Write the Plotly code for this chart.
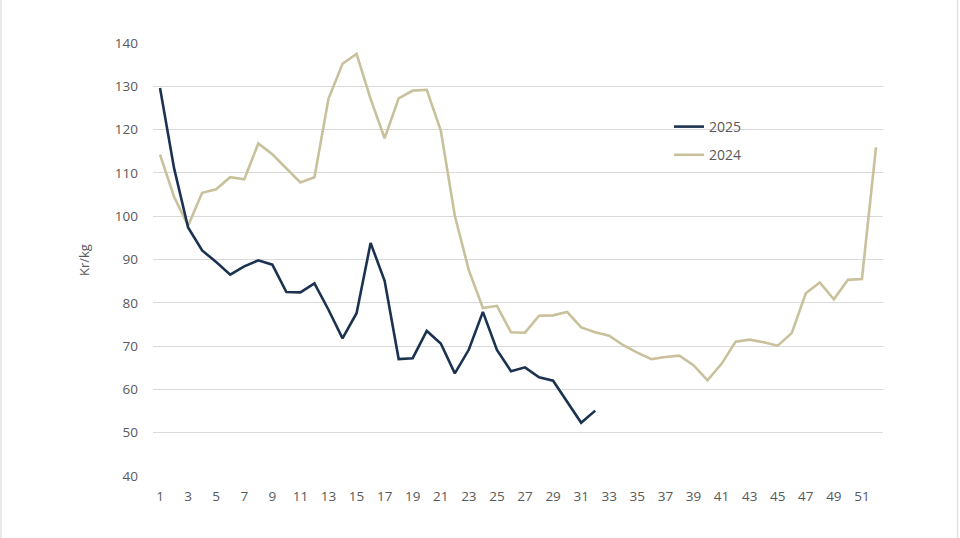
import plotly.graph_objects as go

weeks_2025 = list(range(1, 33))
price_2025 = [129.6, 111.1, 97.4, 92.1, 89.4, 86.5, 88.4, 89.8, 88.8, 82.5,
              82.4, 84.5, 78.4, 71.8, 77.6, 93.8, 85.1, 67.0, 67.2, 73.5,
              70.6, 63.7, 69.2, 77.9, 69.1, 64.2, 65.1, 62.8, 62.0, 57.2,
              52.3, 55.1]

weeks_2024 = list(range(1, 53))
price_2024 = [114.2, 104.5, 97.8, 105.4, 106.2, 109.0, 108.5, 116.8, 114.3, 111.1,
              107.8, 109.0, 127.1, 135.2, 137.5, 127.1, 118.0, 127.2, 129.0, 129.2,
              119.8, 100.1, 87.5, 78.8, 79.3, 73.2, 73.1, 77.0, 77.1, 77.9,
              74.3, 73.2, 72.4, 70.2, 68.5, 67.0, 67.5, 67.8, 65.6, 62.1,
              65.9, 71.0, 71.5, 70.9, 70.1, 73.0, 82.2, 84.7, 80.8, 85.3,
              85.5, 115.9]

x_ticks = list(range(1, 53, 2))
y_ticks = list(range(40, 141, 10))

W, H = 960, 538
L, R, T, B = 153, 883, 43, 476

def px(x):
    return (x - L) / (R - L)

def py(y):
    return (B - y) / (B - T)

fig = go.Figure()
fig.add_trace(go.Scatter(x=weeks_2024, y=price_2024, mode="lines", name="2024",
                         line=dict(color="#c9c09c", width=2.6),
                         legendgroup="b", legendrank=2))
fig.add_trace(go.Scatter(x=weeks_2025, y=price_2025, mode="lines", name="2025",
                         line=dict(color="#1b3251", width=2.6),
                         legendgroup="a", legendrank=1))

font_family = "Open Sans, Liberation Sans, sans-serif"
fig.update_layout(
    width=W, height=H,
    margin=dict(l=L, r=W - R, t=T, b=H - B, autoexpand=False),
    paper_bgcolor="white", plot_bgcolor="white",
    font=dict(family=font_family, size=13.5, color="#595959"),
    showlegend=True,
    legend=dict(x=px(669), y=py(111), xanchor="left", yanchor="top",
                bgcolor="rgba(0,0,0,0)", font=dict(size=14, color="#595959"),
                traceorder="grouped", tracegroupgap=7, itemwidth=30),
    xaxis=dict(range=[0.5, 52.5], tickmode="array", tickvals=x_ticks,
               ticktext=[str(v) for v in x_ticks], showgrid=False,
               zeroline=False, showline=False, ticks="", ticklabelstandoff=10,
               fixedrange=True),
    yaxis=dict(range=[40, 140], tickmode="array", tickvals=y_ticks,
               showgrid=True, gridcolor="#d9d9d9", gridwidth=1,
               zeroline=False, showline=False, ticks="", ticklabelstandoff=14,
               fixedrange=True),
    annotations=[dict(text="Kr/kg", xref="paper", yref="paper",
                      x=px(84), y=py(260), xanchor="center", yanchor="middle",
                      showarrow=False, textangle=-90,
                      font=dict(size=13, color="#595959"))],
    shapes=[
        dict(type="line", xref="paper", yref="paper", x0=px(1), x1=px(1),
             y0=py(H), y1=py(0), line=dict(color="#e3e3e3", width=1.5)),
        dict(type="line", xref="paper", yref="paper", x0=px(957.5), x1=px(957.5),
             y0=py(H), y1=py(0), line=dict(color="#e3e3e3", width=1.5)),
    ],
)

fig.write_html("out.html", config={"displayModeBar": False, "staticPlot": True},
               post_script="document.body.style.margin='0';document.body.style.overflow='hidden';")
